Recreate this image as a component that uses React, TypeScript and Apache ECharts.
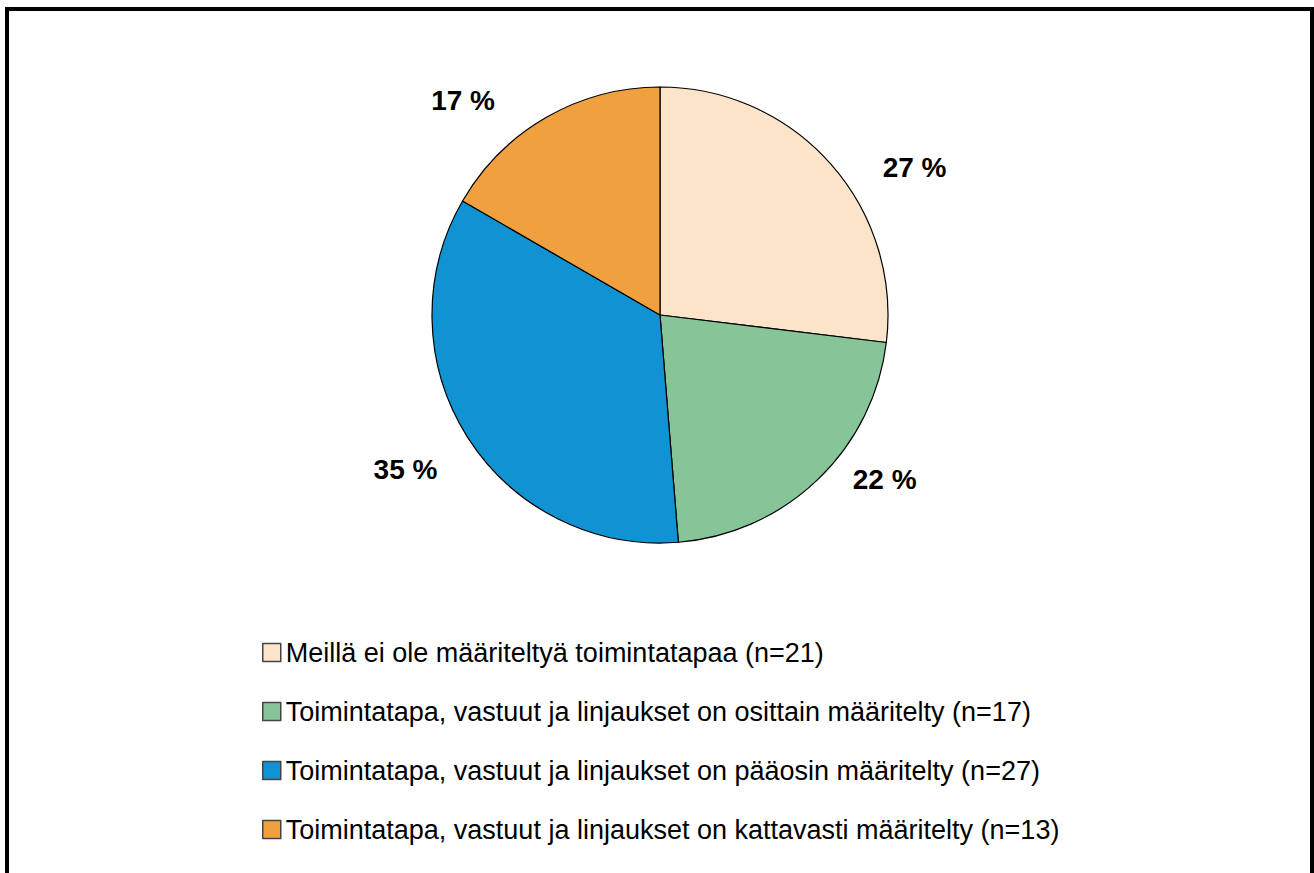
import React, { useEffect, useRef } from "react";
import * as echarts from "echarts";

const categories = [
  "Meillä ei ole määriteltyä toimintatapaa (n=21)",
  "Toimintatapa, vastuut ja linjaukset on osittain määritelty (n=17)",
  "Toimintatapa, vastuut ja linjaukset on pääosin määritelty (n=27)",
  "Toimintatapa, vastuut ja linjaukset on kattavasti määritelty (n=13)",
];
const values = [21, 17, 27, 13];
const colors = ["#FCE4CA", "#86C597", "#1192D2", "#F0A03E"];

// label nudges (style only)
const labelShift = [
  [32, 17],
  [16, -14],
  [-8, 22],
  [-36, 0],
];

const FONT = "'Liberation Sans Narrow', 'Arial Narrow', 'Liberation Sans', Arial, sans-serif";

export default function App() {
  const ref = useRef<HTMLDivElement>(null);
  useEffect(() => {
    document.body.style.margin = "0";
    const chart = echarts.init(ref.current!, null, { renderer: "svg" });
    const total = values.reduce((a, b) => a + b, 0);
    chart.setOption({
      animation: false,
      backgroundColor: "#ffffff",
      graphic: [
        {
          type: "rect",
          shape: { x: 7, y: 9, width: 1305, height: 900 },
          style: { fill: "none", stroke: "#000", lineWidth: 4 },
          silent: true,
        },
      ],
      legend: {
        orient: "vertical",
        left: 257,
        top: 634,
        height: 300,
        itemWidth: 18,
        itemHeight: 18,
        itemGap: 32,
        icon: "rect",
        textStyle: { fontFamily: FONT, fontSize: 27, color: "#000" },
        itemStyle: { borderColor: "#444", borderWidth: 1.5 },
        data: categories,
      },
      series: [
        {
          type: "pie",
          center: [660, 315],
          radius: 228,
          startAngle: 90,
          clockwise: true,
          itemStyle: { borderColor: "#000", borderWidth: 1.2 },
          label: {
            show: true,
            position: "outside",
            fontFamily: FONT,
            fontSize: 28,
            fontWeight: "bold",
            color: "#000",
            formatter: (p: any) => Math.round((p.value / total) * 100) + " %",
          },
          labelLine: { show: false, length: 20, length2: 0 },
          labelLayout: (p: any) => ({
            dx: labelShift[p.dataIndex][0],
            dy: labelShift[p.dataIndex][1],
          }),
          emphasis: { disabled: true },
          data: categories.map((name, i) => ({
            name,
            value: values[i],
            itemStyle: { color: colors[i] },
          })),
        },
      ],
    });
    return () => chart.dispose();
  }, []);
  return <div ref={ref} style={{ width: 1314, height: 873 }} />;
}
